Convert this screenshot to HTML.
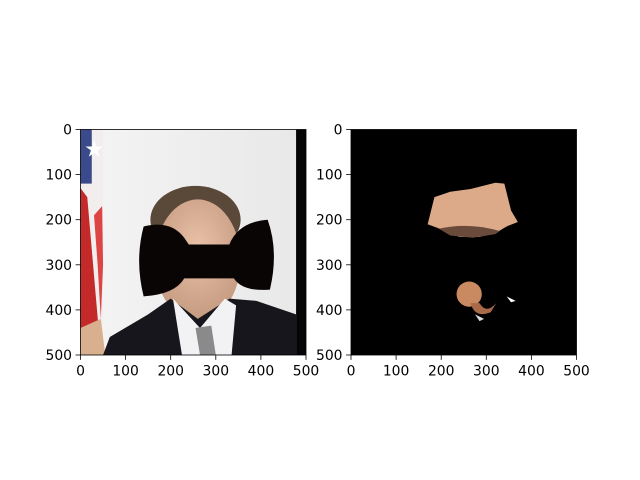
<!DOCTYPE html>
<html><head><meta charset="utf-8"><style>
body{margin:0;background:#fff}
svg{display:block}
text{font-family:"DejaVu Sans","Liberation Sans",sans-serif;font-size:13.9px;fill:#000}
</style></head><body>
<svg width="640" height="480">
<defs>
<clipPath id="c1"><rect x="0" y="0" width="500" height="500"/></clipPath>
<linearGradient id="bg" x1="0" y1="0" x2="1" y2="0"><stop offset="0" stop-color="#f4f4f4"/><stop offset="1" stop-color="#e8e8e8"/></linearGradient>
<radialGradient id="skin" cx="0.5" cy="0.4" r="0.6"><stop offset="0" stop-color="#eac2a8"/><stop offset="1" stop-color="#c49a80"/></radialGradient>
</defs>
<g transform="translate(80.5,129.5) scale(0.451)">
<g clip-path="url(#c1)">
<rect width="500" height="500" fill="url(#bg)"/>
<rect x="478" width="22" height="500" fill="#050505"/>
<rect x="0" width="50" height="500" fill="#f3eeee"/>
<path d="M0 130 L15 150 L40 440 L25 480 L0 480Z" fill="#c42a2a"/>
<path d="M30 190 L48 170 L50 300 L45 420 L38 300Z" fill="#d44"/>
<rect x="0" y="0" width="25" height="120" fill="#3a4a8a"/>
<text x="8" y="60" style="font-size:50px;fill:#fff">★</text>
<path d="M0 440 L45 420 L55 500 L0 500Z" fill="#d8b090"/>
<ellipse cx="255" cy="200" rx="100" ry="75" fill="#5a4838"/>
<ellipse cx="260" cy="290" rx="95" ry="135" fill="url(#skin)"/>
<path d="M50 500 L65 460 L150 410 L200 375 L260 420 L330 375 L390 380 L478 410 L478 500Z" fill="#16161c"/>
<path d="M205 375 L265 440 L320 375 L345 390 L335 500 L225 500Z" fill="#f2f2f4"/>
<path d="M255 440 L290 435 L300 500 L265 500Z" fill="#8a8a8a"/>
<path d="M140 215 Q200 200 230 240 L240 255 L330 255 Q350 205 415 200 Q440 270 420 355 Q360 360 340 330 L230 330 Q210 365 140 370 Q120 290 140 215Z" fill="#0a0505"/>
</g></g>
<g transform="translate(351,129.5) scale(0.451)">
<rect width="500" height="500" fill="#000"/>
<path d="M170 210 L185 150 L220 138 L265 132 L320 118 L340 120 L355 180 L370 205 L345 215 L320 230 L285 238 L240 238 L210 225 Z" fill="#dcaa88"/>
<path d="M195 220 Q260 205 330 225 L320 232 L270 240 L220 235Z" fill="#6a4a3a"/>
<circle cx="262" cy="365" r="28" fill="#c98a62"/>
<path d="M265 385 Q275 420 310 405 L322 385 Q300 410 285 385Z" fill="#a86a48"/>
<path d="M345 370 L365 380 L355 383Z" fill="#fff"/>
<path d="M275 410 L295 420 L285 425Z" fill="#ddd"/>
</g>
<g stroke="#000" stroke-width="0.8" fill="none">
<rect x="80.5" y="129.5" width="225.5" height="225.5"/>
<rect x="351" y="129.5" width="225.5" height="225.5"/>
</g>
<g id="ticks"></g>
</svg>
<script>
const tickVals=[0,100,200,300,400,500];
const axesX=[80.5,351];
const top0=129.5,size=225.5;
const g=document.getElementById('ticks');
const ns='http://www.w3.org/2000/svg';
function sx(ax,v){return ax+v/500*size;}
function sy(v){return top0+v/500*size;}
axesX.forEach((ax,i)=>{
 tickVals.forEach(v=>{
  const x=sx(ax,v),y=sy(v);
  let l=document.createElementNS(ns,'line');
  l.setAttribute('x1',x);l.setAttribute('x2',x);l.setAttribute('y1',top0+size);l.setAttribute('y2',top0+size+4.9);
  l.setAttribute('stroke','#000');l.setAttribute('stroke-width','0.8');
  
  
  g.appendChild(l);
  let t=document.createElementNS(ns,'text');
  t.setAttribute('x',x);t.setAttribute('y',top0+size+20.5);t.setAttribute('text-anchor','middle');
  t.textContent=v;
  
  
  g.appendChild(t);
  let l2=document.createElementNS(ns,'line');
  l2.setAttribute('x1',ax-4.9);l2.setAttribute('x2',ax);l2.setAttribute('y1',y);l2.setAttribute('y2',y);
  l2.setAttribute('stroke','#000');l2.setAttribute('stroke-width','0.8');
  
  
  g.appendChild(l2);
  let t2=document.createElementNS(ns,'text');
  t2.setAttribute('x',ax-8.5);t2.setAttribute('y',y+5);t2.setAttribute('text-anchor','end');
  t2.textContent=v;
  
  
  g.appendChild(t2);
 });
});
</script>
</body></html>
